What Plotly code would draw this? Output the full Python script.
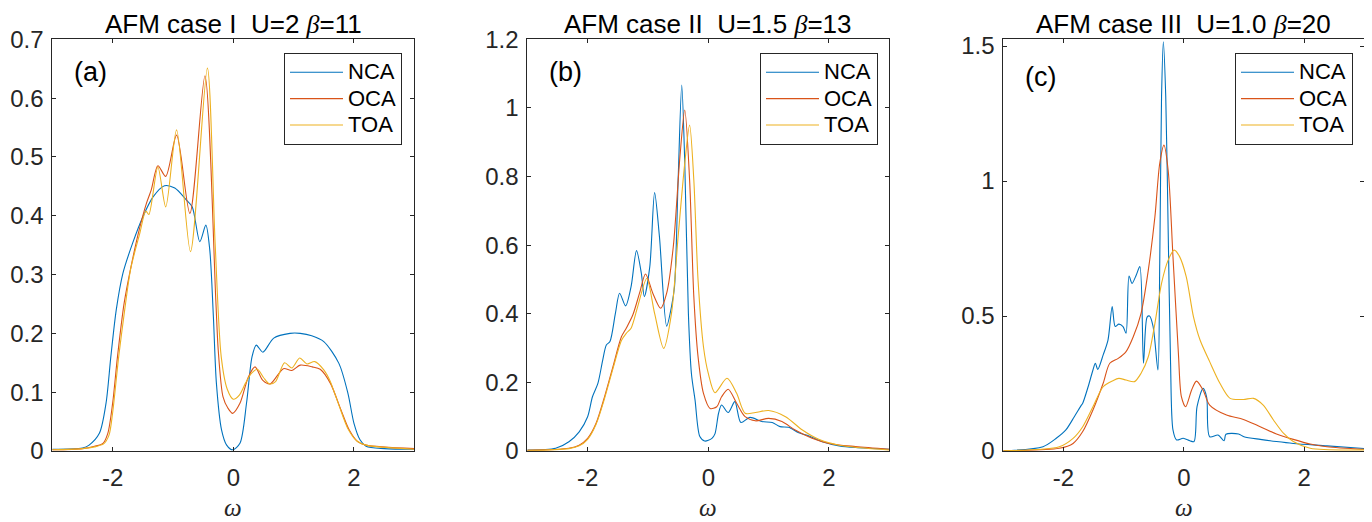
import plotly.graph_objects as go

# ---------------- Data ----------------
# Panel (a): AFM case I, U=2, beta=11
a_nca_w = [-3.0, -2.5, -2.39, -2.22, -2.11, -2.03, -1.94, -1.83, -1.67, -1.50, -1.33, -1.14, -0.97,
           -0.78, -0.68, -0.555, -0.455, -0.39, -0.33, -0.28, -0.195, -0.11, -0.01, 0.11, 0.22, 0.31,
           0.38, 0.49, 0.67, 0.94, 1.11, 1.30, 1.50, 1.75, 1.90, 2.0, 2.1, 2.2, 2.5, 3.0]
a_nca = [0.003, 0.005, 0.010, 0.030, 0.081, 0.160, 0.240, 0.302, 0.353, 0.398, 0.432, 0.451, 0.447,
         0.427, 0.415, 0.356, 0.384, 0.342, 0.228, 0.115, 0.036, 0.010, 0.002, 0.013, 0.082, 0.160,
         0.180, 0.168, 0.192, 0.200, 0.200, 0.196, 0.186, 0.149, 0.098, 0.047, 0.019, 0.008, 0.004, 0.003]

a_oca_w = [-3.0, -2.5, -2.3, -2.16, -2.08, -2.0, -1.92, -1.81, -1.69, -1.56, -1.44, -1.36, -1.25,
           -1.12, -0.94, -0.72, -0.47, -0.29, -0.25, -0.17, -0.09, -0.01, 0.11, 0.25, 0.36, 0.49,
           0.61, 0.83, 0.97, 1.11, 1.31, 1.44, 1.61, 1.78, 1.92, 2.06, 2.2, 3.0]
a_oca = [0.002, 0.004, 0.008, 0.013, 0.030, 0.081, 0.160, 0.251, 0.316, 0.376, 0.421, 0.444, 0.485,
         0.467, 0.537, 0.404, 0.638, 0.257, 0.172, 0.092, 0.073, 0.064, 0.081, 0.126, 0.143, 0.120,
         0.114, 0.140, 0.137, 0.146, 0.143, 0.139, 0.115, 0.071, 0.036, 0.016, 0.010, 0.004]

a_toa_w = [-3.0, -2.5, -2.3, -2.15, -2.06, -2.0, -1.9, -1.8, -1.7, -1.55, -1.45, -1.40, -1.25, -1.12,
           -0.94, -0.71, -0.43, -0.3, -0.2, -0.1, 0.0, 0.1, 0.2, 0.3, 0.4, 0.5, 0.6, 0.7, 0.85, 0.97,
           1.1, 1.22, 1.35, 1.5, 1.6, 1.75, 1.9, 2.05, 2.2, 3.0]
a_toa = [0.002, 0.004, 0.007, 0.012, 0.027, 0.065, 0.160, 0.240, 0.310, 0.370, 0.408, 0.402, 0.483, 0.415,
         0.546, 0.339, 0.651, 0.350, 0.160, 0.105, 0.088, 0.095, 0.115, 0.132, 0.139, 0.125, 0.114, 0.118,
         0.150, 0.141, 0.158, 0.148, 0.152, 0.138, 0.120, 0.078, 0.038, 0.017, 0.010, 0.003]

# Panel (b): AFM case II, U=1.5, beta=13
b_nca_w = [-3.0, -2.53, -2.31, -2.14, -2.0, -1.92, -1.83, -1.75, -1.69, -1.63, -1.54, -1.47, -1.37,
           -1.28, -1.19, -1.11, -1.06, -0.97, -0.89, -0.81, -0.69, -0.61, -0.56, -0.50, -0.44, -0.39,
           -0.33, -0.28, -0.22, -0.14, -0.06, 0.06, 0.11, 0.17, 0.22, 0.33, 0.44, 0.54, 0.69, 0.89,
           1.06, 1.19, 1.33, 1.5, 1.67, 1.89, 2.17, 2.44, 3.0]
b_nca = [0.003, 0.008, 0.027, 0.056, 0.100, 0.158, 0.197, 0.265, 0.309, 0.319, 0.401, 0.460, 0.423,
         0.479, 0.584, 0.518, 0.450, 0.537, 0.753, 0.625, 0.364, 0.421, 0.479, 0.790, 1.067, 0.839,
         0.401, 0.226, 0.149, 0.042, 0.029, 0.037, 0.050, 0.110, 0.134, 0.112, 0.144, 0.083, 0.098, 0.086,
         0.083, 0.071, 0.069, 0.053, 0.044, 0.027, 0.015, 0.010, 0.005]

b_oca_w = [-3.0, -2.31, -2.14, -2.0, -1.86, -1.72, -1.58, -1.44, -1.36, -1.25, -1.14, -1.04, -0.92,
           -0.79, -0.69, -0.58, -0.47, -0.39, -0.31, -0.24, -0.17, -0.08, 0.03, 0.14, 0.22, 0.33, 0.47,
           0.61, 0.78, 1.0, 1.22, 1.44, 1.72, 2.0, 2.44, 3.0]
b_oca = [0.002, 0.008, 0.017, 0.037, 0.081, 0.158, 0.246, 0.333, 0.358, 0.397, 0.460, 0.516, 0.460,
         0.416, 0.460, 0.596, 0.858, 0.994, 0.790, 0.450, 0.275, 0.168, 0.124, 0.129, 0.158, 0.180, 0.139,
         0.100, 0.088, 0.095, 0.086, 0.061, 0.037, 0.022, 0.013, 0.005]

b_toa_w = [-3.0, -2.31, -2.14, -2.0, -1.86, -1.72, -1.58, -1.44, -1.36, -1.28, -1.17, -1.02, -0.89,
           -0.74, -0.61, -0.50, -0.39, -0.31, -0.24, -0.17, -0.08, 0.0, 0.11, 0.31, 0.47, 0.61, 0.78,
           1.0, 1.28, 1.56, 1.83, 2.17, 3.0]
b_toa = [0.002, 0.007, 0.015, 0.034, 0.078, 0.153, 0.240, 0.322, 0.343, 0.358, 0.421, 0.503, 0.401,
         0.299, 0.401, 0.625, 0.839, 0.950, 0.790, 0.499, 0.304, 0.226, 0.170, 0.212, 0.168, 0.110, 0.112,
         0.118, 0.100, 0.061, 0.034, 0.017, 0.003]

# Panel (c): AFM case III, U=1.0, beta=20
c_nca_w = [-3.0, -2.34, -2.12, -1.96, -1.82, -1.71, -1.68, -1.59, -1.51, -1.47, -1.43, -1.34, -1.26,
           -1.19, -1.14, -1.08, -1.01, -0.96, -0.91, -0.86, -0.79, -0.73, -0.67, -0.61, -0.57, -0.51,
           -0.43, -0.40, -0.37, -0.34, -0.30, -0.26, -0.22, -0.18, -0.12, -0.01, 0.10, 0.17, 0.22, 0.32,
           0.38, 0.43, 0.57, 0.67, 0.70, 0.91, 1.0, 1.27, 1.54, 1.82, 2.38, 3.0]
c_nca = [0.001, 0.016, 0.047, 0.078, 0.127, 0.167, 0.177, 0.238, 0.300, 0.325, 0.302, 0.356, 0.411,
         0.535, 0.461, 0.470, 0.461, 0.436, 0.648, 0.621, 0.652, 0.683, 0.325, 0.496, 0.500, 0.461,
         0.300, 0.695, 1.312, 1.516, 1.312, 0.819, 0.325, 0.078, 0.041, 0.047, 0.038, 0.035, 0.164, 0.232,
         0.200, 0.053, 0.059, 0.038, 0.062, 0.063, 0.053, 0.043, 0.035, 0.028, 0.019, 0.009]

c_oca_w = [-3.0, -2.07, -1.84, -1.68, -1.51, -1.34, -1.23, -1.09, -0.96, -0.84, -0.71, -0.59, -0.48,
           -0.40, -0.33, -0.26, -0.18, -0.09, -0.04, 0.03, 0.13, 0.21, 0.32, 0.43, 0.71, 0.99, 1.27, 1.54,
           1.82, 2.1, 2.38, 3.0]
c_oca = [0.001, 0.010, 0.028, 0.072, 0.152, 0.251, 0.325, 0.343, 0.368, 0.423, 0.510, 0.670, 0.868,
         1.065, 1.133, 1.040, 0.720, 0.362, 0.201, 0.164, 0.226, 0.259, 0.226, 0.170, 0.133, 0.117, 0.090,
         0.063, 0.043, 0.026, 0.016, 0.006]

c_toa_w = [-3.0, -2.07, -1.84, -1.68, -1.51, -1.34, -1.18, -1.08, -0.96, -0.82, -0.71, -0.59, -0.48,
           -0.37, -0.26, -0.16, -0.07, 0.04, 0.16, 0.27, 0.43, 0.60, 0.77, 0.99, 1.16, 1.32, 1.49, 1.66,
           1.82, 2.1, 3.0]
c_toa = [0.001, 0.016, 0.047, 0.090, 0.164, 0.238, 0.260, 0.269, 0.263, 0.257, 0.288, 0.349, 0.473,
         0.621, 0.707, 0.744, 0.720, 0.646, 0.498, 0.411, 0.331, 0.251, 0.195, 0.191, 0.195, 0.170, 0.115,
         0.065, 0.035, 0.010, 0.004]

series_names = ["NCA", "OCA", "TOA"]
colors = ["#0072BD", "#D95319", "#EDB120"]
BETA = '<span style="font-family:Liberation Serif, Times New Roman, serif"><i>β</i></span>'
titles = [f"AFM case I&nbsp;&nbsp;U=2 {BETA}=11", f"AFM case II&nbsp;&nbsp;U=1.5 {BETA}=13",
          f"AFM case III&nbsp;&nbsp;U=1.0 {BETA}=20"]
panel_labels = ["(a)", "(b)", "(c)"]
x_label = "<i>ω</i>"
y_ranges = [[0, 0.7], [0, 1.2], [0, 1.525]]
y_ticks = [[0, 0.1, 0.2, 0.3, 0.4, 0.5, 0.6, 0.7], [0, 0.2, 0.4, 0.6, 0.8, 1.0, 1.2], [0, 0.5, 1.0, 1.5]]
y_ticktext = [["0", "0.1", "0.2", "0.3", "0.4", "0.5", "0.6", "0.7"],
              ["0", "0.2", "0.4", "0.6", "0.8", "1", "1.2"],
              ["0", "0.5", "1", "1.5"]]
x_ticks = [-2, 0, 2]
x_ticktext = ["-2", "0", "2"]

panels = [
    [(a_nca_w, a_nca), (a_oca_w, a_oca), (a_toa_w, a_toa)],
    [(b_nca_w, b_nca), (b_oca_w, b_oca), (b_toa_w, b_toa)],
    [(c_nca_w, c_nca), (c_oca_w, c_oca), (c_toa_w, c_toa)],
]

# ---------------- Layout geometry ----------------
# The page body has an 8px margin, so the figure is drawn 8px smaller and all
# page-pixel positions are shifted by that offset.
OFF = 8
W, H = 1372 - OFF, 522 - OFF
x_px = [(52.3, 414.3), (527.3, 889.3), (1003.3, 1364.3)]
y_top_px, y_bot_px = 39.3, 451.0
legend_px = [(284, 53), (760, 53), (1235, 53)]
label_px = [(72, 72), (547, 72), (1023, 77)]


def fx(px):
    return (px - OFF) / W


def fy(py):
    return 1 - (py - OFF) / H


FONT = "Arial, Liberation Sans, Helvetica, sans-serif"
SERIF = "Liberation Serif, Times New Roman, serif"
AX_COLOR = "#262626"

fig = go.Figure()
layout = dict(
    width=W, height=H,
    margin=dict(l=0, r=0, t=0, b=0, autoexpand=False),
    paper_bgcolor="white", plot_bgcolor="white",
    font=dict(family=FONT, size=24, color=AX_COLOR),
    showlegend=True,
)
annotations = []

for i in range(3):
    xa = "xaxis" if i == 0 else f"xaxis{i+1}"
    ya = "yaxis" if i == 0 else f"yaxis{i+1}"
    xref = "x" if i == 0 else f"x{i+1}"
    yref = "y" if i == 0 else f"y{i+1}"
    lg = "legend" if i == 0 else f"legend{i+1}"
    dom_x = [fx(x_px[i][0]), fx(x_px[i][1])]
    dom_y = [fy(y_bot_px), fy(y_top_px)]
    layout[xa] = dict(domain=dom_x, range=[-3, 3], tickvals=x_ticks, ticktext=x_ticktext,
                      ticks="inside", ticklen=4, tickwidth=1, tickcolor=AX_COLOR,
                      showline=True, linecolor=AX_COLOR, linewidth=1, mirror="ticks",
                      showgrid=False, zeroline=False, anchor=yref,
                      tickfont=dict(size=24, color=AX_COLOR), ticklabelstandoff=5)
    layout[ya] = dict(domain=dom_y, range=y_ranges[i], tickvals=y_ticks[i], ticktext=y_ticktext[i],
                      ticks="inside", ticklen=4, tickwidth=1, tickcolor=AX_COLOR,
                      showline=True, linecolor=AX_COLOR, linewidth=1, mirror="ticks",
                      showgrid=False, zeroline=False, anchor=xref,
                      tickfont=dict(size=24, color=AX_COLOR), ticklabelstandoff=3)
    layout[lg] = dict(x=fx(legend_px[i][0]), y=fy(legend_px[i][1]), xanchor="left", yanchor="top",
                      bgcolor="white", bordercolor=AX_COLOR, borderwidth=1,
                      font=dict(size=18, color="black", family=FONT), itemwidth=53,
                      tracegroupgap=0)
    for (w, v), name, col in zip(panels[i], series_names, colors):
        fig.add_trace(go.Scatter(x=w, y=v, mode="lines",
                                 name=f'<span style="font-size:22px">{name}</span>',
                                 xaxis=xref, yaxis=yref, legend=lg,
                                 line=dict(color=col, width=1.1, shape="spline", smoothing=0.8)))
    cx = (fx(x_px[i][0]) + fx(x_px[i][1])) / 2
    annotations.append(dict(text=titles[i], x=cx, y=1.0, xref="paper", yref="paper",
                            xanchor="center", yanchor="top", showarrow=False, borderpad=0,
                            font=dict(size=26, color="black", family=FONT)))
    annotations.append(dict(text=x_label, x=cx, y=0.0, xref="paper", yref="paper",
                            xanchor="center", yanchor="bottom", showarrow=False, borderpad=0,
                            font=dict(size=25, color=AX_COLOR, family=SERIF)))
    annotations.append(dict(text=panel_labels[i], x=fx(label_px[i][0]), y=fy(label_px[i][1]),
                            xref="paper", yref="paper", xanchor="left", yanchor="middle", showarrow=False,
                            font=dict(size=27, color="black", family=FONT)))

layout["annotations"] = annotations
fig.update_layout(**layout)
fig.write_html("out.html")
